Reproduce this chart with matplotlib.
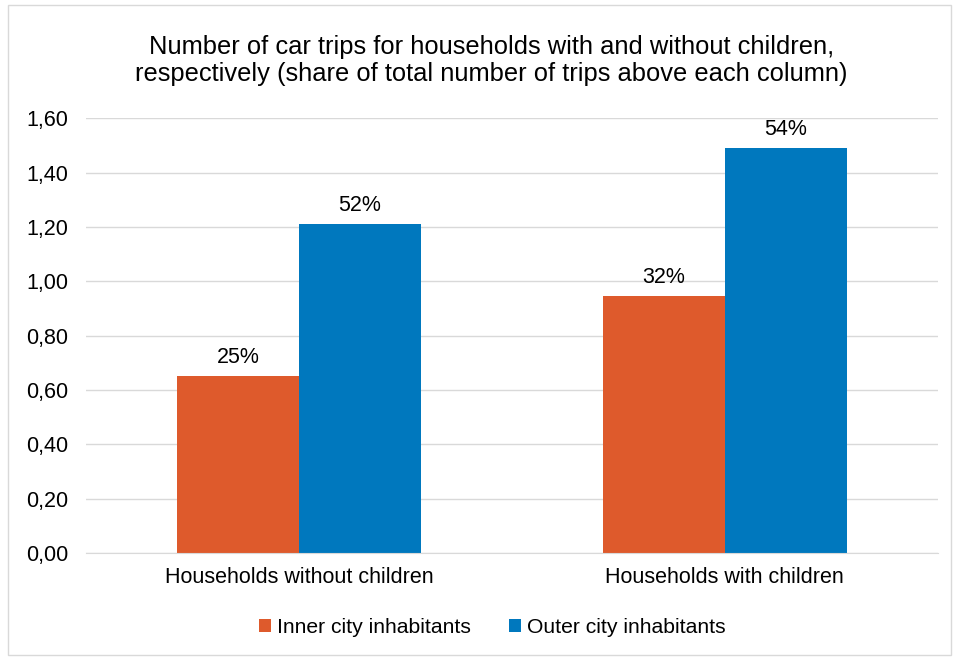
import matplotlib.pyplot as plt
from matplotlib.patches import Rectangle
import numpy as np

plt.rcParams['font.family'] = ['Liberation Sans', 'DejaVu Sans']

categories = ["Households without children", "Households with children"]
series_names = ["Inner city inhabitants", "Outer city inhabitants"]
inner = [0.65, 0.945]
outer = [1.21, 1.49]
inner_share = ["25%", "32%"]
outer_share = ["52%", "54%"]
yticks = [0.0, 0.2, 0.4, 0.6, 0.8, 1.0, 1.2, 1.4, 1.6]

c_inner = "#DE5A2C"
c_outer = "#0078BE"

fig = plt.figure(figsize=(9.59, 6.6), dpi=100)
fig.patches.append(Rectangle((0.008, 0.008), 0.984, 0.984, transform=fig.transFigure,
                             fill=False, edgecolor="#D9D9D9", linewidth=1))
ax = fig.add_axes([0.0897, 0.162, 0.888, 0.659])

x = np.arange(len(categories))
w = 0.287
b1 = ax.bar(x - w / 2, inner, w, color=c_inner, label=series_names[0], zorder=2)
b2 = ax.bar(x + w / 2, outer, w, color=c_outer, label=series_names[1], zorder=2)

for bars, labels in ((b1, inner_share), (b2, outer_share)):
    for r, t in zip(bars, labels):
        ax.annotate(t, (r.get_x() + r.get_width() / 2, r.get_height()),
                    xytext=(0, 6), textcoords="offset points", ha="center", va="bottom",
                    fontsize=15.5, color="#000000")

ax.set_xlim(-0.5, 1.5)
ax.set_ylim(0, 1.6)
ax.set_yticks(yticks)
ax.set_yticklabels([f"{v:.2f}".replace(".", ",") for v in yticks])
ax.set_xticks(x)
ax.set_xticklabels(categories)
ax.tick_params(axis="both", length=0, labelsize=15.5, colors="#000000")
ax.tick_params(axis="y", pad=13)
ax.tick_params(axis="x", pad=10)
ax.yaxis.grid(True, color="#D9D9D9", linewidth=1, zorder=0)
for s in ["top", "right", "left"]:
    ax.spines[s].set_visible(False)
ax.spines["bottom"].set_color("#D9D9D9")

fig.text(0.5125, 0.908, "Number of car trips for households with and without children,\n"
         "respectively (share of total number of trips above each column)",
         ha="center", va="center", fontsize=18.4, linespacing=1.17)

fig.legend(loc="center", bbox_to_anchor=(0.513, 0.049), ncol=2, frameon=False,
           fontsize=15.2, handlelength=0.6, handleheight=0.6, handletextpad=0.25,
           columnspacing=1.8)

fig.savefig("out.png", dpi=100)
